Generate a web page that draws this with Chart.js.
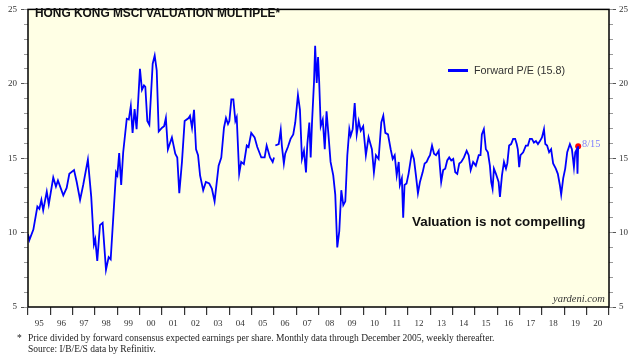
<!DOCTYPE html>
<html>
<head>
<meta charset="utf-8">
<script src="https://cdn.jsdelivr.net/npm/chart.js@4/dist/chart.umd.min.js"></script>
<style>
html,body{margin:0;padding:0;background:#fff;}
#wrap{position:relative;width:640px;height:357px;overflow:hidden;}
#c{position:absolute;left:0;top:0;}
.t{position:absolute;white-space:nowrap;}
</style>
</head>
<body>
<div id="wrap">
<canvas id="c" width="640" height="357"></canvas>
<div class="t" id="title" style="left:35px;top:7px;font:bold 11.9px 'Liberation Sans',Arial,sans-serif;line-height:13px;color:#111;"></div>
<div class="t" style="left:448px;top:69px;width:20px;height:3px;background:#0000ff;"></div>
<div class="t" id="legendText" style="left:474px;top:64px;font:10.8px 'Liberation Sans',Arial,sans-serif;line-height:12px;color:#333;"></div>
<div class="t" id="note" style="left:412px;top:214px;font:bold 13.4px 'Liberation Sans',Arial,sans-serif;line-height:15px;color:#111;"></div>
<div class="t" id="latestLbl" style="left:582px;top:138px;font:10.3px 'Liberation Serif','Times New Roman',serif;line-height:12px;color:#7f7fff;"></div>
<div class="t" style="left:553px;top:293px;font:italic 10.5px 'Liberation Serif','Times New Roman',serif;line-height:12px;color:#333;">yardeni.com</div>
<div class="t" style="left:17px;top:333px;font:9.5px 'Liberation Serif','Times New Roman',serif;line-height:11px;color:#222;">*</div>
<div class="t" id="foot1" style="left:28px;top:333px;font:9.5px 'Liberation Serif','Times New Roman',serif;line-height:11px;color:#222;"></div>
<div class="t" id="foot2" style="left:28px;top:344px;font:9.5px 'Liberation Serif','Times New Roman',serif;line-height:11px;color:#222;"></div>
</div>
<script>
// ---- data ----
const titleText = 'HONG KONG MSCI VALUATION MULTIPLE*';
const seriesName = 'Forward P/E';
const noteText = 'Valuation is not compelling';
const footnote1 = 'Price divided by forward consensus expected earnings per share. Monthly data through December 2005, weekly thereafter.';
const footnote2 = 'Source: I/B/E/S data by Refinitiv.';
const yearLabels = ['95','96','97','98','99','00','01','02','03','04','05','06','07','08','09','10','11','12','13','14','15','16','17','18','19','20'];
const latestDate = 2019.62;
const latestValue = 15.8;
const latestLabel = '8/15';

const dates = [
1995.00,1995.06,1995.24,1995.42,1995.51,1995.60,1995.68,1995.84,1995.93,
1996.13,1996.25,1996.34,1996.58,1996.73,1996.85,
1997.06,1997.18,1997.33,1997.47,1997.68,1997.83,1997.95,
1998.01,1998.10,1998.22,1998.34,1998.49,1998.61,1998.70,1998.94,
1999.00,1999.08,1999.17,1999.26,1999.42,1999.51,1999.60,1999.68,1999.77,1999.86,
2000.01,2000.10,2000.19,2000.25,2000.34,2000.43,2000.58,2000.67,2000.76,2000.85,
2001.00,2001.09,2001.17,2001.26,2001.44,2001.59,2001.68,2001.77,2001.89,
2002.01,2002.19,2002.25,2002.34,2002.43,2002.52,2002.61,2002.70,2002.84,2002.96,
2003.11,2003.23,2003.35,2003.53,2003.65,2003.77,2003.86,2003.95,
2004.01,2004.10,2004.19,2004.28,2004.34,2004.45,2004.54,2004.66,2004.79,2004.87,2004.99,
2005.14,2005.26,2005.44,2005.59,2005.68,2005.83,2005.95,2006.01,
2006.03,
2006.07,2006.22,2006.31,2006.36,2006.45,2006.51,2006.63,2006.75,2006.87,2006.96,
2007.08,2007.17,2007.26,2007.35,2007.44,2007.50,2007.59,2007.65,2007.71,2007.80,2007.85,2007.92,2007.98,
2008.03,2008.10,2008.19,2008.28,2008.36,2008.45,2008.54,2008.66,2008.75,2008.84,2008.93,
2009.02,2009.11,2009.20,2009.29,2009.38,2009.44,2009.53,2009.62,2009.71,2009.80,2009.89,
2010.00,2010.12,2010.24,2010.39,2010.48,2010.57,2010.69,2010.81,2010.90,2010.99,
2011.11,2011.23,2011.32,2011.41,2011.50,2011.59,2011.64,2011.73,2011.79,2011.85,2011.94,
2012.03,2012.18,2012.27,2012.36,2012.45,2012.54,2012.66,2012.75,2012.84,2012.93,2012.99,
2013.08,2013.17,2013.26,2013.38,2013.43,2013.49,2013.58,2013.67,2013.76,2013.85,2013.94,
2014.03,2014.12,2014.21,2014.30,2014.39,2014.51,2014.63,2014.72,2014.81,2014.92,
2015.04,2015.17,2015.25,2015.31,2015.40,2015.49,2015.58,2015.67,2015.73,2015.79,2015.85,2015.94,
2016.06,2016.12,2016.21,2016.30,2016.39,2016.45,2016.53,2016.62,2016.71,2016.80,2016.87,2016.92,2016.98,
2017.04,2017.16,2017.28,2017.37,2017.46,2017.55,2017.64,2017.73,2017.82,2017.91,
2018.00,2018.09,2018.15,2018.23,2018.32,2018.41,2018.50,2018.62,2018.71,2018.80,2018.86,2018.95,
2019.04,2019.13,2019.25,2019.34,2019.43,2019.49,2019.56,2019.59,2019.62
];
const forwardPE = [
9.9,9.5,10.2,11.75,11.6,12.2,11.5,12.75,11.9,
13.7,13.1,13.5,12.5,13.0,13.95,
14.2,13.4,12.2,13.2,14.9,12.4,9.2,
9.55,8.1,10.5,10.65,7.5,8.35,8.2,14.05,
13.85,15.35,13.2,15.4,17.65,17.6,18.5,16.7,18.3,16.95,
21.0,19.6,19.9,19.8,17.5,17.25,21.35,21.9,20.9,16.8,
17.05,17.15,17.7,15.6,16.4,15.3,15.05,12.65,14.75,
17.5,17.7,17.85,17.05,18.25,15.6,15.2,13.85,12.85,13.4,
13.3,12.95,12.1,14.5,15.05,17.05,17.7,17.3,
17.5,18.95,18.95,17.5,17.75,13.95,14.75,14.6,15.85,15.75,16.7,
16.4,15.75,15.05,15.05,15.85,15.05,14.75,15.05,
null,
15.85,15.95,16.9,15.85,14.65,15.3,15.75,16.3,16.6,17.4,
19.25,18.25,14.95,15.5,14.05,15.95,17.4,15.05,17.4,20.15,22.55,20.05,21.8,
20.15,17.15,17.6,15.6,18.15,16.5,14.75,13.85,12.55,9.0,10.1,
12.85,11.85,12.1,15.2,16.95,16.5,16.95,18.7,16.6,17.5,16.85,
17.15,15.2,16.4,15.6,14.05,15.2,14.95,17.4,17.85,16.7,
16.6,15.6,14.95,15.2,13.85,14.75,13.2,13.65,11.0,13.2,13.3,
13.95,15.4,14.95,13.85,12.65,13.4,14.05,14.65,14.75,15.05,15.2,
15.85,15.3,15.2,15.5,14.5,13.4,14.2,14.3,14.85,15.05,14.85,
14.95,14.05,13.95,14.65,14.75,15.05,15.5,15.2,14.2,14.75,
14.5,15.2,15.2,16.6,16.95,15.6,15.4,14.5,13.4,12.95,14.3,13.95,
13.4,12.4,13.85,14.75,14.3,14.65,15.85,15.95,16.3,16.3,15.95,15.6,14.4,
15.2,15.4,15.85,15.85,16.3,16.3,16.05,16.15,15.95,16.15,
16.4,16.95,15.95,15.85,15.4,15.6,14.65,14.3,13.95,13.2,12.55,13.65,
14.3,15.4,15.95,15.6,14.4,15.4,15.6,13.95,15.8
];

// ---- text ----
document.getElementById('title').textContent = titleText;
document.getElementById('legendText').textContent = seriesName + ' (' + latestValue.toFixed(1) + ')';
document.getElementById('note').textContent = noteText;
document.getElementById('latestLbl').textContent = latestLabel;
document.getElementById('foot1').textContent = footnote1;
document.getElementById('foot2').textContent = footnote2;

// ---- chart ----
const frame = {
  id: 'frame',
  beforeDraw(chart) {
    const {ctx, chartArea: a} = chart;
    ctx.save();
    ctx.fillStyle = '#FFFFE5';
    ctx.fillRect(a.left, a.top, a.right - a.left, a.bottom - a.top);
    ctx.restore();
  },
  afterDraw(chart) {
    const {ctx, chartArea: a} = chart;
    ctx.save();
    ctx.strokeStyle = '#000';
    ctx.lineWidth = 1.5;
    ctx.strokeRect(a.left, a.top, a.right - a.left, a.bottom - a.top);
    ctx.restore();
  }
};

const serif = "'Liberation Serif','Times New Roman',serif";
const majorY = (pos, w, pad) => ({
  position: pos, weight: 1, min: 5, max: 25,
  afterFit(s) { s.width = w; },
  ticks: { stepSize: 5, padding: pad, color: '#333', font: { family: serif, size: 9 } },
  grid: { drawOnChartArea: false, tickLength: 7, color: '#555', lineWidth: 1 },
  border: { display: false }
});
const minorY = (pos) => ({
  position: pos, weight: 0, min: 5, max: 25,
  afterFit(s) { s.width = 0; },
  ticks: { display: false, stepSize: 1 },
  grid: { drawOnChartArea: false, tickLength: 4, color: '#999', lineWidth: 1 },
  border: { display: false }
});

new Chart(document.getElementById('c'), {
  type: 'line',
  data: {
    datasets: [
      {
        label: seriesName,
        data: dates.map((d, i) => ({ x: d, y: forwardPE[i] })),
        borderColor: '#0000ff',
        borderWidth: 1.8,
        pointRadius: 0,
        tension: 0,
        spanGaps: false
      },
      {
        label: latestLabel,
        data: [{ x: latestDate, y: latestValue }],
        showLine: false,
        pointRadius: 3,
        pointBackgroundColor: '#ff0000',
        pointBorderColor: '#ff0000',
        pointBorderWidth: 0
      }
    ]
  },
  options: {
    responsive: false,
    animation: false,
    devicePixelRatio: 1,
    layout: { padding: { top: 5, left: 0, right: 0, bottom: 0 } },
    plugins: { legend: { display: false }, tooltip: { enabled: false } },
    scales: {
      x: {
        type: 'linear', position: 'bottom', min: 1995, max: 2021,
        afterFit(s) { s.height = 50; },
        ticks: {
          stepSize: 1, autoSkip: false, maxRotation: 0, minRotation: 0,
          labelOffset: 11.2, padding: 3, color: '#333',
          font: { family: serif, size: 9 },
          callback: (v, i) => (yearLabels[i] !== undefined ? yearLabels[i] : '')
        },
        grid: { drawOnChartArea: false, tickLength: 8, color: '#333', lineWidth: 1.2 },
        border: { display: false }
      },
      y: majorY('left', 28, 4),
      yMinL: minorY('left'),
      yR: majorY('right', 31, 3),
      yMinR: minorY('right')
    }
  },
  plugins: [frame]
});
</script>
</body>
</html>
